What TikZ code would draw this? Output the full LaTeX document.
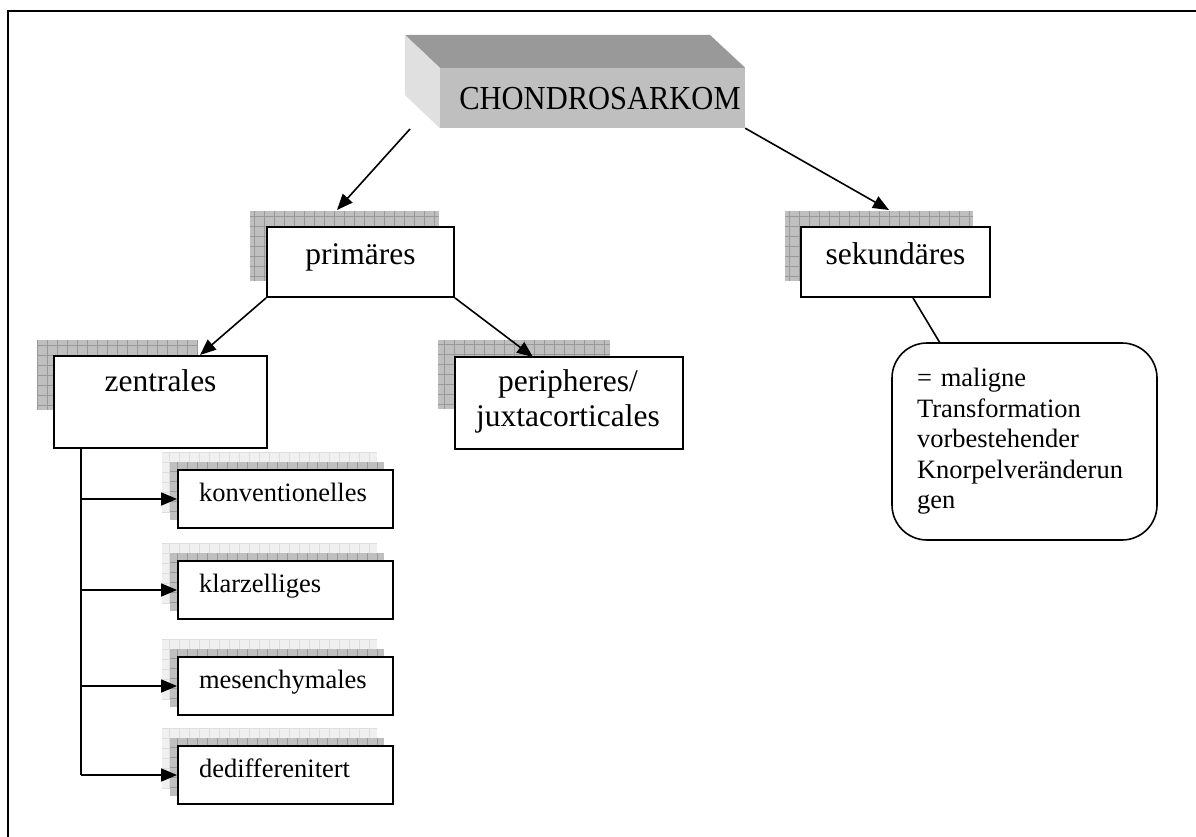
\documentclass[tikz,border=0pt]{standalone}
\usepackage{fontspec}
\setmainfont{Liberation Serif}
\usetikzlibrary{arrows.meta,calc}
\tikzset{
  box/.style={draw=black, line width=1.8pt, fill=white, inner sep=0pt},
  big/.style={font=\fontsize{31.5}{35}\selectfont, text height=0.7em, text depth=0.22em},
  small/.style={font=\fontsize{26.5}{30.5}\selectfont},
  conn/.style={line width=1.6pt, -{Triangle[length=16pt,width=13pt]}},
  plainline/.style={line width=1.6pt},
  gshadow/.style={fill=black!25, draw=none, inner sep=0pt,
    path picture={\draw[black!40, line width=0.6pt, step=10pt]
      (path picture bounding box.south west) grid (path picture bounding box.north east);}},
  lshadow/.style={fill=black!6, draw=none, inner sep=0pt,
    path picture={\draw[black!13, line width=0.6pt, step=10pt]
      (path picture bounding box.south west) grid (path picture bounding box.north east);}},
  smallbox/.style={box, small, minimum width=215pt, minimum height=58pt,
    text width=173pt, align=left, text height=0.7em, text depth=0.25em},
}
\begin{document}
\begin{tikzpicture}[x=1pt,y=-1pt]
\useasboundingbox (0,0) rectangle (1196,837);
% frame
\coordinate (fbl) at (8,837);
\coordinate (ftl) at (8,11);
\coordinate (ftr) at (1196,11);
\draw[line width=2pt] (fbl) -- (ftl) -- (ftr);

% root 3D box
\node[fill=black!25, inner sep=0pt, minimum width=305pt, minimum height=60pt] (root) at (592.5,98) {};
\fill[black!40] (root.north west) -- ++(-35,-33) -- ++(305,0) -- (root.north east) -- cycle;
\fill[black!12] (root.north west) -- ++(-35,-33) -- ++(0,60) -- (root.south west) -- cycle;
\node[font=\fontsize{30.5}{34}\selectfont, inner sep=0pt] (rootT) at (600,99) {\scalebox{1}[1.1]{CHONDROSARKOM}};

% level 1
\node[gshadow, minimum width=189pt, minimum height=70pt] (primS) at (344.5,246) {};
\node[box, big, minimum width=187pt, minimum height=70pt] (prim) at (360.5,262) {primäres};
\node[gshadow, minimum width=188pt, minimum height=70pt] (sekS) at (879,246) {};
\node[box, big, minimum width=189pt, minimum height=70pt] (sek) at (895.5,262) {sekundäres};

% level 2
\node[gshadow, minimum width=161pt, minimum height=70pt] (zenS) at (117.5,375) {};
\node[box, minimum width=213pt, minimum height=92pt] (zen) at (160.5,402) {};
\node[big, inner sep=0pt] (zenT) at (160.5,389) {zentrales};
\node[gshadow, minimum width=172pt, minimum height=69pt] (perS) at (524,374.5) {};
\node[box, minimum width=228pt, minimum height=92pt] (per) at (569,403) {};
\node[font=\fontsize{31.5}{35}\selectfont, align=center, inner sep=0pt] (perT) at (568,401) {peripheres/\\juxtacorticales};

% rounded note
\node[draw=black, line width=1.6pt, rounded corners=35pt, fill=white, small,
  minimum width=265pt, minimum height=197pt, text width=215pt, align=left, inner sep=0pt]
  (note) at (1024.5,441.5) {= maligne\\Transformation\\vorbestehender\\Knorpelveränderun\\gen};

% small boxes with double shadows
\foreach \nm/\cy/\tx in {konv/499/konventionelles, klar/590/klarzelliges, mes/686/mesenchymales, ded/775/dedifferenitert}{
  \node[lshadow, minimum width=215pt, minimum height=60pt] (\nm L) at (269.5,\cy-17) {};
  \node[gshadow, minimum width=214pt, minimum height=58pt] (\nm D) at (277,\cy-8) {};
  \node[smallbox] (\nm) at (285.5,\cy) {\tx};
}

% connectors
\coordinate (rootL) at (410,129);
\coordinate (primTip) at (337,210);
\coordinate (sekTip) at (889,210);
\coordinate (zenTip) at (200,355);
\coordinate (perTip) at (533,357);
\draw[conn] (rootL) -- (primTip);
\draw[conn] (root.south east) -- (sekTip);
\draw[conn] (prim.south west) -- (zenTip);
\draw[conn] (prim.south east) -- (perTip);
\coordinate (sekB) at ($(sek.south)+(17.5,0)$);
\coordinate (noteT) at (940,343);
\draw[plainline] (sekB) -- (noteT);

\coordinate (trunkTop) at (81,448);
\coordinate (trunkBot) at (trunkTop |- ded.west);
\draw[plainline] (trunkTop) -- (trunkBot);
\foreach \nm in {konv, klar, mes, ded}{
  \draw[conn] (trunkTop |- \nm.west) -- (\nm.west);
}
\end{tikzpicture}
\end{document}
